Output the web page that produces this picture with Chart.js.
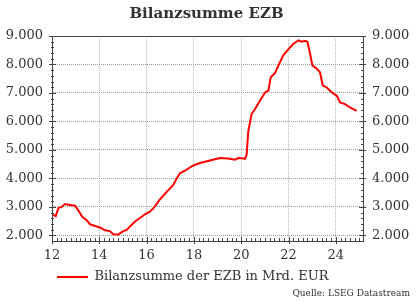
<!DOCTYPE html>
<html>
<head>
<meta charset="utf-8">
<script src="https://cdn.jsdelivr.net/npm/chart.js@4"></script>
<style>
	html, body { margin: 0; padding: 0; background: #fff; }
</style>
</head>
<body>
<canvas id="chart" width="416" height="302"></canvas>
<script>
// years as two-digit decimal years (12 = 2012), values in Mrd. EUR
var years = [12.05, 12.16, 12.27, 12.41, 12.55, 12.76, 12.97, 13.11, 13.28, 13.47, 13.61, 13.82,
	14.03, 14.24, 14.45, 14.59, 14.80, 15.01, 15.16, 15.34, 15.51, 15.72, 15.93, 16.14, 16.33,
	16.57, 16.85, 17.13, 17.27, 17.41, 17.62, 17.97, 18.26, 18.68, 19.10, 19.45, 19.74, 19.88,
	20.09, 20.16, 20.23, 20.30, 20.44, 20.58, 20.79, 21.01, 21.15, 21.25, 21.43, 21.61, 21.78,
	21.99, 22.20, 22.42, 22.56, 22.70, 22.80, 22.91, 23.01, 23.19, 23.33, 23.45, 23.61, 23.83,
	24.04, 24.18, 24.39, 24.60, 24.74, 24.88];
var values = [2720, 2680, 2960, 3000, 3100, 3070, 3040, 2880, 2650, 2530, 2390, 2330,
	2280, 2180, 2150, 2040, 2030, 2150, 2190, 2350, 2490, 2610, 2740, 2830, 2990,
	3270, 3530, 3770, 4000, 4180, 4270, 4455, 4540, 4630, 4720, 4700, 4660, 4720,
	4700, 4690, 4840, 5660, 6260, 6430, 6730, 7020, 7080, 7555, 7700, 8030, 8325,
	8530, 8720, 8850, 8800, 8830, 8800, 8385, 7970, 7850, 7730, 7260, 7200, 7020,
	6905, 6670, 6610, 6490, 6430, 6370];
var xTicks = [12, 14, 16, 18, 20, 22, 24];
var yTicks = [2000, 3000, 4000, 5000, 6000, 7000, 8000, 9000];
var seriesLabel = "Bilanzsumme der EZB in Mrd. EUR";
var chartTitle = "Bilanzsumme EZB";
var sourceText = "Quelle: LSEG Datastream";

var xMin = 12, xMax = 25.15, yMin = 1800, yMax = 9000;

function fmt(v) {
	return String(v).replace(/\B(?=(\d{3})+(?!\d))/g, ".");
}

var points = years.map(function (y, i) { return { x: y, y: values[i] }; });

Chart.defaults.font.family = "DejaVu Serif";
Chart.defaults.color = "#333";

// frame top line and the small tick marks on every axis
var tickMarks = {
	id: "tickMarks",
	afterDraw: function (chart) {
		var ctx = chart.ctx;
		var area = chart.chartArea;
		var sx = chart.scales.x, sy = chart.scales.y;
		ctx.save();
		ctx.strokeStyle = "#444";
		ctx.lineWidth = 1;
		ctx.beginPath();
		ctx.moveTo(area.left, Math.round(area.top) + 0.5);
		ctx.lineTo(area.right, Math.round(area.top) + 0.5);
		for (var v = 2000; v <= yMax; v += 200) {
			var py = Math.round(sy.getPixelForValue(v)) + 0.5;
			var major = v % 1000 === 0;
			var inner = major ? 4 : 2, outer = major ? 3 : 1;
			ctx.moveTo(area.left - outer, py);
			ctx.lineTo(area.left + inner, py);
			ctx.moveTo(area.right - inner, py);
			ctx.lineTo(area.right + outer, py);
		}
		for (var i = 0; 12 + i * 0.2 <= xMax; i++) {
			var t = 12 + i * 0.2;
			var px = Math.round(sx.getPixelForValue(t)) + 0.5;
			var maj = i % 10 === 0;
			ctx.moveTo(px, area.bottom + (maj ? 3 : 0));
			ctx.lineTo(px, area.bottom - (maj ? 4 : 3));
		}
		ctx.stroke();
		ctx.restore();
	}
};

var ctx = document.getElementById("chart").getContext("2d");
new Chart(ctx, {
	type: "line",
	data: {
		datasets: [
			{
				label: seriesLabel,
				data: points,
				borderColor: "#ff0000",
				backgroundColor: "#ff0000",
				borderWidth: 2,
				pointRadius: 0,
				tension: 0,
				fill: false,
			},
		],
	},
	options: {
		responsive: false,
		animation: false,
		devicePixelRatio: 1,
		layout: { padding: { left: 3, right: 6, top: 0, bottom: 0 } },
		plugins: {
			title: {
				display: true,
				text: chartTitle,
				color: "#333",
				font: { size: 15, weight: "bold" },
				padding: { top: 5.5, bottom: 12.5 },
			},
			subtitle: {
				display: true,
				text: sourceText,
				position: "bottom",
				align: "end",
				color: "#333",
				font: { size: 9 },
				padding: { top: -5, bottom: 2.6 },
			},
			legend: {
				position: "bottom",
				align: "start",
				fullSize: false,
				labels: {
					usePointStyle: true,
					pointStyle: "line",
					pointStyleWidth: 31,
					padding: 5,
					color: "#333",
					font: { size: 13 },
				},
			},
			tooltip: { enabled: false },
		},
		scales: {
			x: {
				type: "linear",
				min: xMin,
				max: xMax,
				afterBuildTicks: function (s) {
					s.ticks = xTicks.map(function (v) { return { value: v }; });
				},
				afterFit: function (s) { s.height = 24.5; },
				ticks: { padding: 7, maxRotation: 0, font: { size: 13 }, color: "#333" },
				grid: { color: "#bbb", drawTicks: false },
				border: { display: true, color: "#444", width: 1, dash: [1, 1] },
			},
			y: {
				position: "left",
				min: yMin,
				max: yMax,
				afterBuildTicks: function (s) {
					s.ticks = yTicks.map(function (v) { return { value: v }; });
				},
				afterFit: function (s) { s.width = 49; },
				ticks: { padding: 9, font: { size: 13 }, color: "#333", callback: fmt },
				grid: { color: "#999", drawTicks: false },
				border: { display: true, color: "#444", width: 1, dash: [1, 1] },
			},
			y2: {
				position: "right",
				min: yMin,
				max: yMax,
				afterBuildTicks: function (s) {
					s.ticks = yTicks.map(function (v) { return { value: v }; });
				},
				afterFit: function (s) { s.width = 47; },
				ticks: { padding: 9, font: { size: 13 }, color: "#333", callback: fmt },
				grid: { display: false, drawTicks: false },
				border: { display: true, color: "#444", width: 1 },
			},
		},
	},
	plugins: [tickMarks],
});
</script>
</body>
</html>
